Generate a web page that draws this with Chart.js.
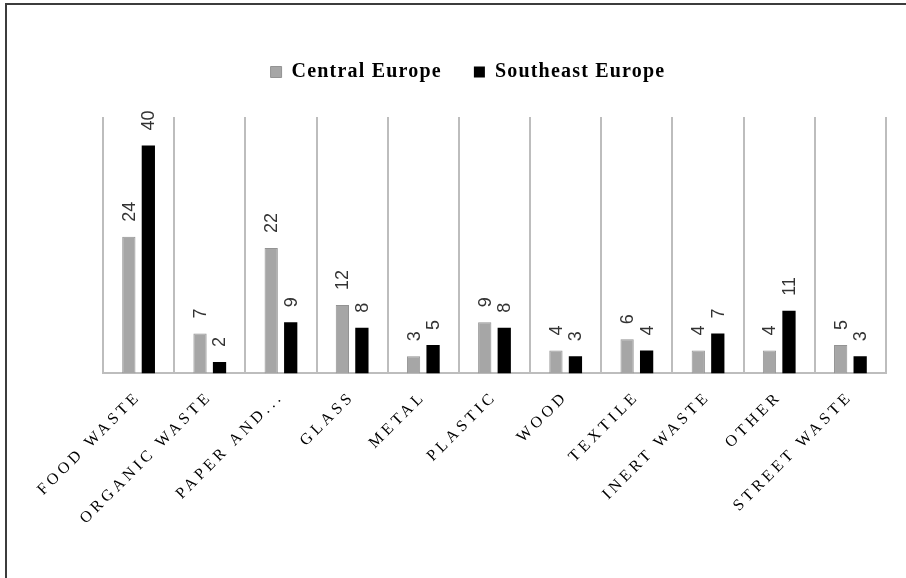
<!DOCTYPE html>
<html>
  <head>
    <title>Waste composition</title>
    <script src="https://cdn.jsdelivr.net/npm/chart.js@4"></script>
    <style>
      body {
        margin: 0;
        background: #fff;
      }
      #wrap {
        position: relative;
        width: 906px;
        height: 578px;
        overflow: hidden;
      }
      #wrap canvas {
        position: absolute;
        left: 0;
        top: 0;
      }
      /* only the top and left edges of the frame are visible */
      #frame {
        position: absolute;
        left: 5px;
        top: 3px;
        right: -10px;
        bottom: -10px;
        border-left: 2px solid #3c3c3c;
        border-top: 2px solid #3c3c3c;
        pointer-events: none;
      }
    </style>
  </head>

  <body>
    <div id="wrap">
      <canvas id="canvas" width="906" height="578"></canvas>
      <div id="frame"></div>
    </div>
    <script>
      const categories = [
        'FOOD WASTE',
        'ORGANIC WASTE',
        'PAPER AND...',
        'GLASS',
        'METAL',
        'PLASTIC',
        'WOOD',
        'TEXTILE',
        'INERT WASTE',
        'OTHER',
        'STREET WASTE',
      ];
      const centralEurope = [24, 7, 22, 12, 3, 9, 4, 6, 4, 4, 5];
      const southeastEurope = [40, 2, 9, 8, 5, 8, 3, 4, 7, 11, 3];
      const yMax = 45;

      const LABEL_SPACING = '3.8px';

      // category axis whose tick labels are drawn with wide letter spacing
      class SpacedCategoryScale extends Chart.CategoryScale {
        static id = 'spacedCategory';
        static defaults = Chart.CategoryScale.defaults;
        update(maxWidth, maxHeight, margins) {
          this.ctx.save();
          this.ctx.letterSpacing = LABEL_SPACING;
          const r = super.update(maxWidth, maxHeight, margins);
          this.ctx.restore();
          return r;
        }
        drawLabels(area) {
          this.ctx.save();
          this.ctx.letterSpacing = LABEL_SPACING;
          super.drawLabels(area);
          this.ctx.restore();
        }
      }
      Chart.register(SpacedCategoryScale);

      // slight tracking for the legend text
      const tracking = {
        id: 'tracking',
        beforeUpdate(chart) {
          chart.ctx.letterSpacing = '1.2px';
        },
        beforeDraw(chart) {
          chart.ctx.letterSpacing = '1.2px';
        },
      };

      // leave room between legend and plot
      const legendGap = {
        id: 'legendGap',
        beforeInit(chart) {
          const fit = chart.legend.fit;
          chart.legend.fit = function () {
            fit.call(this);
            this.height = 87;
          };
        },
      };

      // vertical value labels above each bar
      const valueLabels = {
        id: 'valueLabels',
        afterDatasetsDraw(chart) {
          const ctx = chart.ctx;
          ctx.save();
          ctx.letterSpacing = '0px';
          ctx.font = '18px "Liberation Sans", Arial, sans-serif';
          ctx.fillStyle = '#333';
          ctx.textAlign = 'left';
          ctx.textBaseline = 'middle';
          chart.data.datasets.forEach((ds, i) => {
            chart.getDatasetMeta(i).data.forEach((bar, j) => {
              ctx.save();
              ctx.translate(bar.x + 1, bar.y - 15);
              ctx.rotate(-Math.PI / 2);
              ctx.fillText(String(ds.data[j]), 0, 0);
              ctx.restore();
            });
          });
          ctx.restore();
        },
      };

      const ctx = document.getElementById('canvas').getContext('2d');
      const chart = new Chart(ctx, {
        type: 'bar',
        data: {
          labels: categories,
          datasets: [
            {
              label: 'Central Europe',
              data: centralEurope,
              backgroundColor: '#a6a6a6',
              borderColor: '#939393',
              borderWidth: 1,
            },
            {
              label: 'Southeast Europe',
              data: southeastEurope,
              backgroundColor: '#000',
              borderColor: '#000',
              borderWidth: 0,
            },
          ],
        },
        options: {
          responsive: false,
          animation: false,
          categoryPercentage: 0.548,
          barPercentage: 0.68,
          layout: {
            padding: { top: 30, left: 50, right: 20, bottom: 36 },
          },
          plugins: {
            legend: {
              position: 'top',
              labels: {
                boxWidth: 11,
                boxHeight: 11,
                padding: 32,
                color: '#000',
                font: { family: '"Liberation Serif", "Times New Roman", serif', size: 20, weight: 'bold' },
              },
            },
            tooltip: { enabled: false },
          },
          scales: {
            x: {
              type: 'spacedCategory',
              grid: {
                offset: true,
                color: '#bdbdbd',
                lineWidth: 2,
                drawTicks: false,
              },
              border: { display: true, color: '#bdbdbd', width: 2 },
              ticks: {
                autoSkip: false,
                minRotation: 45,
                maxRotation: 45,
                padding: 14,
                color: '#000',
                font: { family: '"Liberation Serif", "Times New Roman", serif', size: 16 },
              },
            },
            y: {
              min: 0,
              max: yMax,
              grid: { display: false },
              border: { display: false },
              ticks: { display: false },
              afterFit(scale) {
                scale.width = 53;
              },
            },
          },
        },
        plugins: [tracking, legendGap, valueLabels],
      });
    </script>
  </body>
</html>
